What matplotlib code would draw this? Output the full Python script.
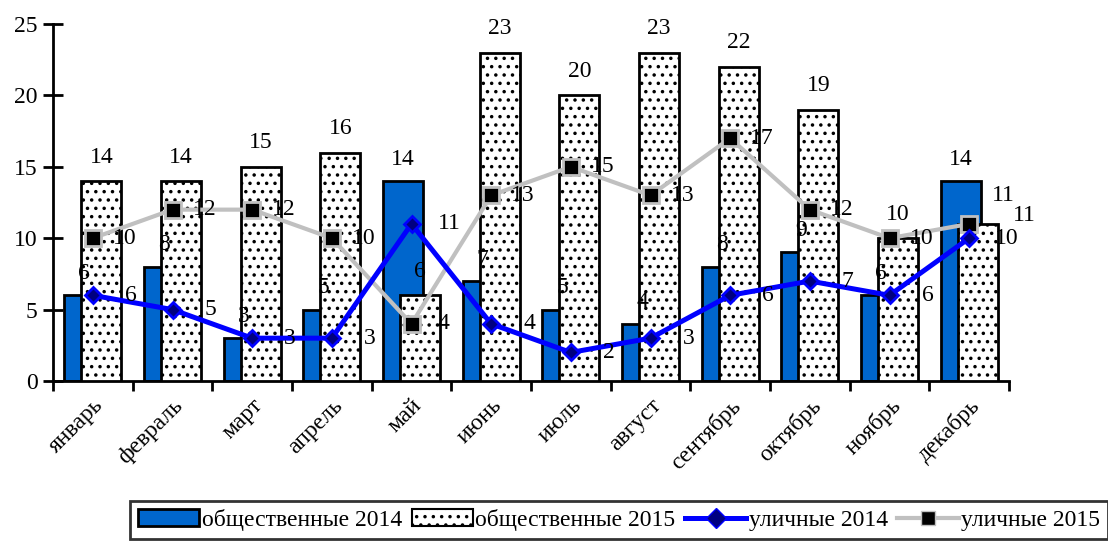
import numpy as np
import matplotlib
matplotlib.use('Agg')
import matplotlib.pyplot as plt
from matplotlib.patches import Patch
from matplotlib.lines import Line2D

months = ['январь', 'февраль', 'март', 'апрель', 'май', 'июнь', 'июль',
          'август', 'сентябрь', 'октябрь', 'ноябрь', 'декабрь']
public_2014 = [6, 8, 3, 5, 14, 7, 5, 4, 8, 9, 6, 14]
public_2015 = [14, 14, 15, 16, 6, 23, 20, 23, 22, 19, 10, 11]
street_2014 = [6, 5, 3, 3, 11, 4, 2, 3, 6, 7, 6, 10]
street_2015 = [10, 12, 12, 10, 4, 13, 15, 13, 17, 12, 10, 11]

plt.rcParams['font.family'] = ['Liberation Serif', 'DejaVu Serif']
plt.rcParams['hatch.color'] = '#444444'
plt.rcParams['hatch.linewidth'] = 1.3
fs = 17

fig = plt.figure(figsize=(11.08, 5.52), dpi=100)
ax = fig.add_axes([53 / 1108, 1 - 381 / 552, 956 / 1108, 357 / 552])

x = np.arange(len(months))
w = 0.5
off = 0.107

ax.bar(x - off, public_2014, w, color='#0066CC', edgecolor='black', linewidth=2, zorder=2)
ax.bar(x + off, public_2015, w, color='white', edgecolor='black', linewidth=2,
       hatch='..', zorder=3)

ax.plot(x, street_2015, color='#C0C0C0', lw=3, marker='s', ms=12,
        mfc='black', mec='#C0C0C0', mew=2, zorder=5)
ax.plot(x, street_2014, color='#0000FF', lw=3.6, marker='D', ms=8,
        mfc='#000080', mec='#0000FF', mew=2, zorder=6)

# label offsets in pixels; a few tweaks where labels collide
bar15_off = {11: (26, 28)}
line15_off = {11: (55, 8)}

for i in range(len(months)):
    ax.annotate(str(public_2014[i]), (x[i] - off, public_2014[i]), xytext=(0, 22),
                textcoords='offset pixels', ha='center', va='center', fontsize=fs, zorder=7)
    ax.annotate(str(public_2015[i]), (x[i] + off, public_2015[i]), xytext=bar15_off.get(i, (0, 24)),
                textcoords='offset pixels', ha='center', va='center', fontsize=fs, zorder=7)
    ax.annotate(str(street_2014[i]), (x[i], street_2014[i]), xytext=(38, 0),
                textcoords='offset pixels', ha='center', va='center', fontsize=fs, zorder=7)
    ax.annotate(str(street_2015[i]), (x[i], street_2015[i]), xytext=line15_off.get(i, (32, 0)),
                textcoords='offset pixels', ha='center', va='center', fontsize=fs, zorder=7)

ax.set_xlim(-0.5, len(months) - 0.5)
ax.set_ylim(0, 25)
ax.set_yticks(range(0, 26, 5))
ax.set_xticks(x)
ax.set_xticklabels(months, rotation=45, ha='right', rotation_mode='anchor', fontsize=fs)
ax.tick_params(axis='x', length=0, pad=10)
ax.set_xticks(np.arange(-0.5, len(months), 1), minor=True)
ax.tick_params(axis='x', which='minor', length=7, width=2, direction='out')
ax.tick_params(axis='y', length=14, width=2, direction='inout', labelsize=fs, pad=4)
for s in ['top', 'right']:
    ax.spines[s].set_visible(False)
for s in ['left', 'bottom']:
    ax.spines[s].set_linewidth(2)

handles = [
    Patch(facecolor='#0066CC', edgecolor='black', linewidth=2),
    Patch(facecolor='white', edgecolor='black', linewidth=1.5, hatch='..'),
    Line2D([], [], color='#0000FF', lw=3.6, marker='D', ms=10, mfc='#000080', mec='#0000FF'),
    Line2D([], [], color='#C0C0C0', lw=3, marker='s', ms=10, mfc='black', mec='#C0C0C0'),
]
labels = ['общественные 2014', 'общественные 2015', 'уличные 2014', 'уличные 2015']
leg = fig.legend(handles, labels, loc='lower left', bbox_to_anchor=(118 / 1108, 1 / 552),
                 ncol=4, fontsize=fs, frameon=True, fancybox=False, edgecolor='black',
                 handlelength=2.6, handletextpad=0.1, columnspacing=0.4, borderpad=0.35)
leg.get_frame().set_linewidth(2)

fig.savefig('out.png', dpi=100)
